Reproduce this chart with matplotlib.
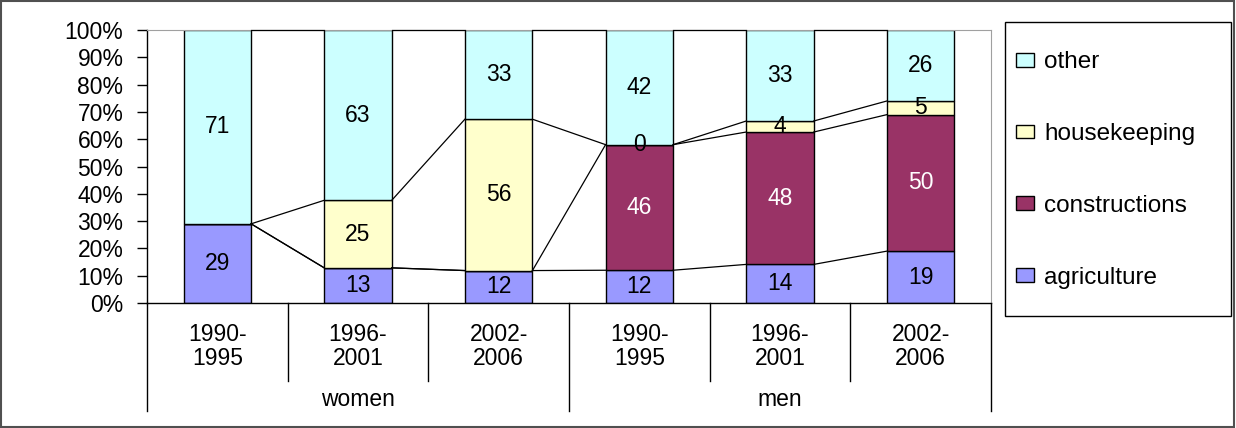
import matplotlib
matplotlib.use("Agg")
from matplotlib import pyplot as plt
from matplotlib.patches import Rectangle
import matplotlib.transforms as mtrans
import numpy as np

plt.rcParams['font.family'] = ['Liberation Sans', 'DejaVu Sans']

# data (None = no segment / no label)
periods = ['1990-\n1995', '1996-\n2001', '2002-\n2006', '1990-\n1995', '1996-\n2001', '2002-\n2006']
groups = ['women', 'men']
series = ['agriculture', 'constructions', 'housekeeping', 'other']
agriculture = [29, 13, 12, 12, 14, 19]
constructions = [None, None, None, 46, 48, 50]
housekeeping = [None, 25, 56, 0, 4, 5]
other = [71, 63, 33, 42, 33, 26]
colors = ['#9999FF', '#993366', '#FFFFCC', '#CCFFFF']
text_colors = ['black', 'white', 'black', 'black']

raw = np.array([[np.nan if v is None else v for v in s]
                for s in [agriculture, constructions, housekeeping, other]], dtype=float)
vals = np.nan_to_num(raw)
pct = vals / vals.sum(axis=0) * 100
tops = np.cumsum(pct, axis=0)
bottoms = tops - pct

FS = 16.5
W, H = 1236, 428
fig = plt.figure(figsize=(W / 100, H / 100), dpi=100)
ax = fig.add_axes([147 / W, 1 - 303 / H, (991 - 147) / W, (303 - 30) / H])

x = np.arange(len(periods))
w = 0.48
for k, name in enumerate(series):
    ax.bar(x, pct[k], w, bottom=bottoms[k], color=colors[k], edgecolor='black',
           linewidth=1, label=name, zorder=2)
    for i in range(len(x)):
        if np.isnan(raw[k, i]):
            continue
        ax.text(x[i], bottoms[k, i] + pct[k, i] / 2, f"{int(raw[k, i])}",
                ha='center', va='center', fontsize=FS, color=text_colors[k], zorder=4)

# series lines
for k in range(len(series)):
    for i in range(len(x) - 1):
        ax.plot([x[i] + w / 2, x[i + 1] - w / 2], [tops[k, i], tops[k, i + 1]],
                color='black', lw=0.9, zorder=3, clip_on=False)

ax.set_xlim(-0.5, len(x) - 0.5)
ax.set_ylim(0, 100)
ax.set_yticks(np.arange(0, 101, 10))
ax.set_yticklabels([f"{t}%" for t in range(0, 101, 10)], fontsize=FS)
ax.tick_params(axis='y', direction='out', length=7, width=1, pad=10)
ax.set_xticks([])
for s in ['top', 'right']:
    ax.spines[s].set_color('#A0A0A0')
ax.spines['left'].set_linewidth(1)
ax.spines['bottom'].set_linewidth(1)

# multi-level category axis
tr = mtrans.blended_transform_factory(ax.transData, ax.transAxes)
for i, p in enumerate(periods):
    ax.text(x[i], -0.16, p, transform=tr, ha='center', va='center', fontsize=FS,
            linespacing=1.08)
for b in [0.5, 1.5, 3.5, 4.5]:
    ax.plot([b, b], [0, -0.285], transform=tr, color='black', lw=1, clip_on=False)
for b in [-0.5, 2.5, 5.5]:
    ax.plot([b, b], [0, -0.395], transform=tr, color='black', lw=1, clip_on=False)
for g, name in enumerate(groups):
    ax.text(g * 3 + 1, -0.355, name, transform=tr, ha='center', va='center', fontsize=FS)

# legend with its own frame
fig.patches.append(Rectangle((1005 / W, 1 - 316 / H), 226 / W, 294 / H,
                             transform=fig.transFigure, fill=False,
                             edgecolor='black', lw=1))
handles, labels = ax.get_legend_handles_labels()
fig.legend(handles[::-1], labels[::-1], loc='center left',
           bbox_to_anchor=(1005 / W, 1 - 170 / H), fontsize=17.5, frameon=False,
           handlelength=0.75, handleheight=0.5, handletextpad=0.4,
           labelspacing=2.05, borderpad=0.45, borderaxespad=0)

fig.patches.append(Rectangle((0.001, 0.002), 0.997, 0.996, transform=fig.transFigure,
                             fill=False, edgecolor='#505050', lw=1.5))

fig.savefig('out.png', dpi=100)
